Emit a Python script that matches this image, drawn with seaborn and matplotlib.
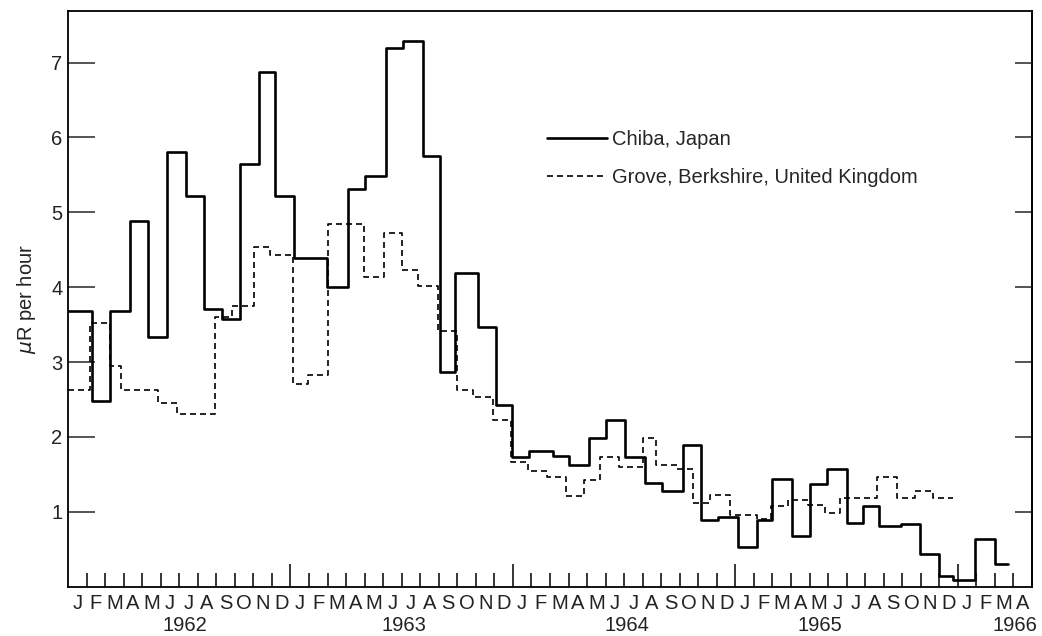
import numpy as np
import pandas as pd
import matplotlib
matplotlib.use("Agg")
import matplotlib.pyplot as plt
import matplotlib.transforms as mtransforms
import seaborn as sns

# step levels; x = months since Jan 1962 where each level starts
chiba_start = [0, 1.28, 2.27, 3.34, 4.33, 5.32, 6.35, 7.32, 8.29, 9.30,
               10.30, 11.17, 12.21, 13.95, 15.10, 16.02, 17.15, 18.08, 19.16, 20.06,
               20.87, 22.10, 23.08, 23.96, 24.88, 26.18, 27.04, 28.12, 29.02, 30.04,
               31.12, 32.02, 33.15, 34.14, 35.08, 36.15, 37.18, 37.96, 39.04, 40.02,
               40.95, 42.00, 42.86, 43.76, 44.93, 45.95, 46.98, 47.75, 48.92, 50.00]
chiba_end = 50.72
chiba_level = [3.68, 2.48, 3.68, 4.88, 3.33, 5.80, 5.22, 3.71, 3.58, 5.64,
               6.88, 5.22, 4.39, 4.00, 5.31, 5.49, 7.19, 7.29, 5.75, 2.87,
               4.19, 3.47, 2.42, 1.73, 1.81, 1.74, 1.62, 1.99, 2.22, 1.73,
               1.38, 1.27, 1.89, 0.89, 0.93, 0.53, 0.89, 1.43, 0.67, 1.37,
               1.57, 0.85, 1.08, 0.81, 0.84, 0.44, 0.14, 0.09, 0.63, 0.30]

grove_start = [0, 1.19, 2.27, 2.84, 4.87, 5.86, 7.93, 8.83, 10.05, 10.90,
               12.11, 12.96, 14.01, 15.97, 17.04, 18.00, 18.89, 19.97, 20.97, 21.83,
               22.91, 23.88, 24.83, 25.82, 26.86, 27.85, 28.69, 29.73, 30.99, 31.71,
               32.83, 33.73, 34.63, 35.71, 37.16, 37.92, 38.85, 39.93, 40.83, 41.64,
               43.62, 44.70, 45.69, 46.67]
grove_end = 47.72
grove_level = [2.63, 3.52, 2.94, 2.63, 2.45, 2.31, 3.60, 3.75, 4.54, 4.43,
               2.70, 2.83, 4.84, 4.13, 4.73, 4.23, 4.01, 3.42, 2.63, 2.53,
               2.22, 1.66, 1.54, 1.47, 1.21, 1.42, 1.73, 1.60, 1.99, 1.62,
               1.57, 1.11, 1.22, 0.96, 0.90, 1.07, 1.16, 1.09, 0.98, 1.18,
               1.46, 1.18, 1.27, 1.18]

month_letters = list("JFMAMJJASOND") * 4 + list("JFMA")
year_labels = ["1962", "1963", "1964", "1965", "1966"]
year_label_pos = [6.3, 18.1, 30.15, 40.55, 51.1]

n_months = 52
fs = 14.5

sns.set_style("ticks")
plt.rcParams["font.family"] = ["Liberation Sans", "DejaVu Sans"]
plt.rcParams["font.size"] = fs

def step_frame(starts, levels, end):
    return pd.DataFrame({"month": starts + [end], "level": levels + [levels[-1]]})

chiba = step_frame(chiba_start, chiba_level, chiba_end)
grove = step_frame(grove_start, grove_level, grove_end)

fig, ax = plt.subplots(figsize=(10.42, 6.36), dpi=100)
fig.subplots_adjust(left=0.0653, right=0.9904, bottom=0.0778, top=0.9827)

sns.lineplot(data=grove, x="month", y="level", ax=ax, estimator=None,
             drawstyle="steps-post", color="black", linewidth=1.2,
             linestyle=(0, (3.6, 2.4)), label="Grove, Berkshire, United Kingdom")
sns.lineplot(data=chiba, x="month", y="level", ax=ax, estimator=None,
             drawstyle="steps-post", color="black", linewidth=1.9,
             label="Chiba, Japan")

ax.set_xlim(0, n_months)
ax.set_ylim(0, 7.69)
ax.set_xlabel("")
ax.set_ylabel(r"$\mu$R per hour", fontsize=fs, color="#222222")
ax.yaxis.set_label_coords(-0.031, 0.5)

for side in ["left", "right", "top", "bottom"]:
    ax.spines[side].set_visible(True)
    ax.spines[side].set_linewidth(1.3)
    ax.spines[side].set_color("black")

# month ticks (inward), longer ticks at year boundaries
year_ticks = [12, 24, 36, 48]
month_ticks = [m for m in range(1, n_months) if m not in year_ticks]
ax.set_xticks(year_ticks)
ax.set_xticks(month_ticks, minor=True)
ax.tick_params(axis="x", which="major", direction="in", length=16.5, width=1.1,
               labelbottom=False, color="black")
ax.tick_params(axis="x", which="minor", direction="in", length=10, width=1.1,
               color="black")

ax.set_yticks(range(1, 8))
ax.tick_params(axis="y", which="major", direction="in", length=19.5, width=1.1,
               pad=4, labelsize=fs, labelcolor="#222222", left=True, right=False)
sec = ax.secondary_yaxis("right")
sec.set_yticks(range(1, 8))
sec.tick_params(direction="in", length=12, width=1.1, labelright=False)
sec.spines["right"].set_linewidth(1.3)

trans = mtransforms.blended_transform_factory(ax.transData, ax.transAxes)
for i, letter in enumerate(month_letters):
    ax.text(i + 0.5, -0.013, letter, transform=trans, ha="center", va="top",
            fontsize=fs, color="#222222")
for pos, lab in zip(year_label_pos, year_labels):
    ax.text(pos, -0.068, lab, transform=trans, ha="center", va="center",
            fontsize=fs, color="#222222")

handles, labels = ax.get_legend_handles_labels()
order = [labels.index("Chiba, Japan"), labels.index("Grove, Berkshire, United Kingdom")]
ax.legend([handles[i] for i in order], [labels[i] for i in order],
          loc="upper left", bbox_to_anchor=(0.478, 0.8245), frameon=False,
          handlelength=3.0, handletextpad=0.25, labelspacing=0.95, fontsize=fs)

fig.savefig("out.png", dpi=100)
